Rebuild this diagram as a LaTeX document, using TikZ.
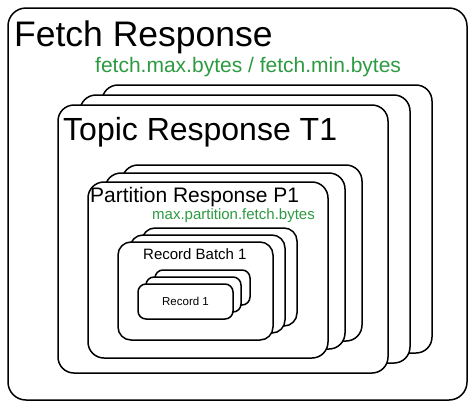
\documentclass[tikz,border=0pt]{standalone}
\usepackage{fontspec}
\setmainfont{Liberation Sans}
\usetikzlibrary{positioning}
\definecolor{cfggreen}{RGB}{45,155,65}

\begin{document}
\begin{tikzpicture}[x=1pt, y=-1pt,
        card/.style={rectangle, draw, fill=white, line width=1.5pt, rounded corners=#1, inner sep=0pt, outer sep=0pt, anchor=north west},
        card/.default=16pt,
        topicbox/.style={card, minimum width=330pt, minimum height=268pt},
        partbox/.style={card, minimum width=240pt, minimum height=176pt},
        batchbox/.style={card=13pt, minimum width=155pt, minimum height=98pt},
        recbox/.style={card=8pt, minimum width=95pt, minimum height=35pt, font=\fontsize{11.5}{13}\selectfont},
        label/.style={inner sep=0pt, anchor=base west},
        config/.style={label, text=cfggreen}]

        \path[fill=white, use as bounding box] (0,0) rectangle (474,408);

        \node[card=18pt, minimum width=459pt, minimum height=392pt] (fetch) at (8,8) {};
        \node[label, font=\fontsize{35.5}{40}\selectfont] (fetchlbl) at ([shift={(6,38)}]fetch.north west) {Fetch Response};
        \node[config, font=\fontsize{21}{25}\selectfont] (fetchcfg) at ([shift={(87,64)}]fetch.north west) {fetch.max.bytes / fetch.min.bytes};

        % topic responses
        \node[topicbox] (topic3) at (102,85) {};
        \node[topicbox] (topic2) at (80,95) {};
        \node[topicbox] (topic1) at (58,105) {};
        \node[label, font=\fontsize{32}{38}\selectfont] (topiclbl) at ([shift={(5,35)}]topic1.north west) {Topic Response T1};

        % partition responses
        \node[partbox] (part3) at (122,165) {};
        \node[partbox] (part2) at (105,173) {};
        \node[partbox] (part1) at (88,182) {};
        \node[label, font=\fontsize{21}{25}\selectfont] (partlbl) at ([shift={(2,20)}]part1.north west) {Partition Response P1};
        \node[config, font=\fontsize{15}{18}\selectfont] (partcfg) at ([shift={(64,37)}]part1.north west) {max.partition.fetch.bytes};

        % record batches
        \node[batchbox] (batch3) at (142,228) {};
        \node[batchbox] (batch2) at (130,235) {};
        \node[batchbox] (batch1) at (118,242) {};
        \node[label, font=\fontsize{15}{18}\selectfont] (batchlbl) at ([shift={(25,17)}]batch1.north west) {Record Batch 1};

        % records
        \node[recbox] (rec3) at (155,270) {};
        \node[recbox] (rec2) at (146,277) {};
        \node[recbox] (rec1) at (138,284) {Record 1};
    \end{tikzpicture}
\end{document}
